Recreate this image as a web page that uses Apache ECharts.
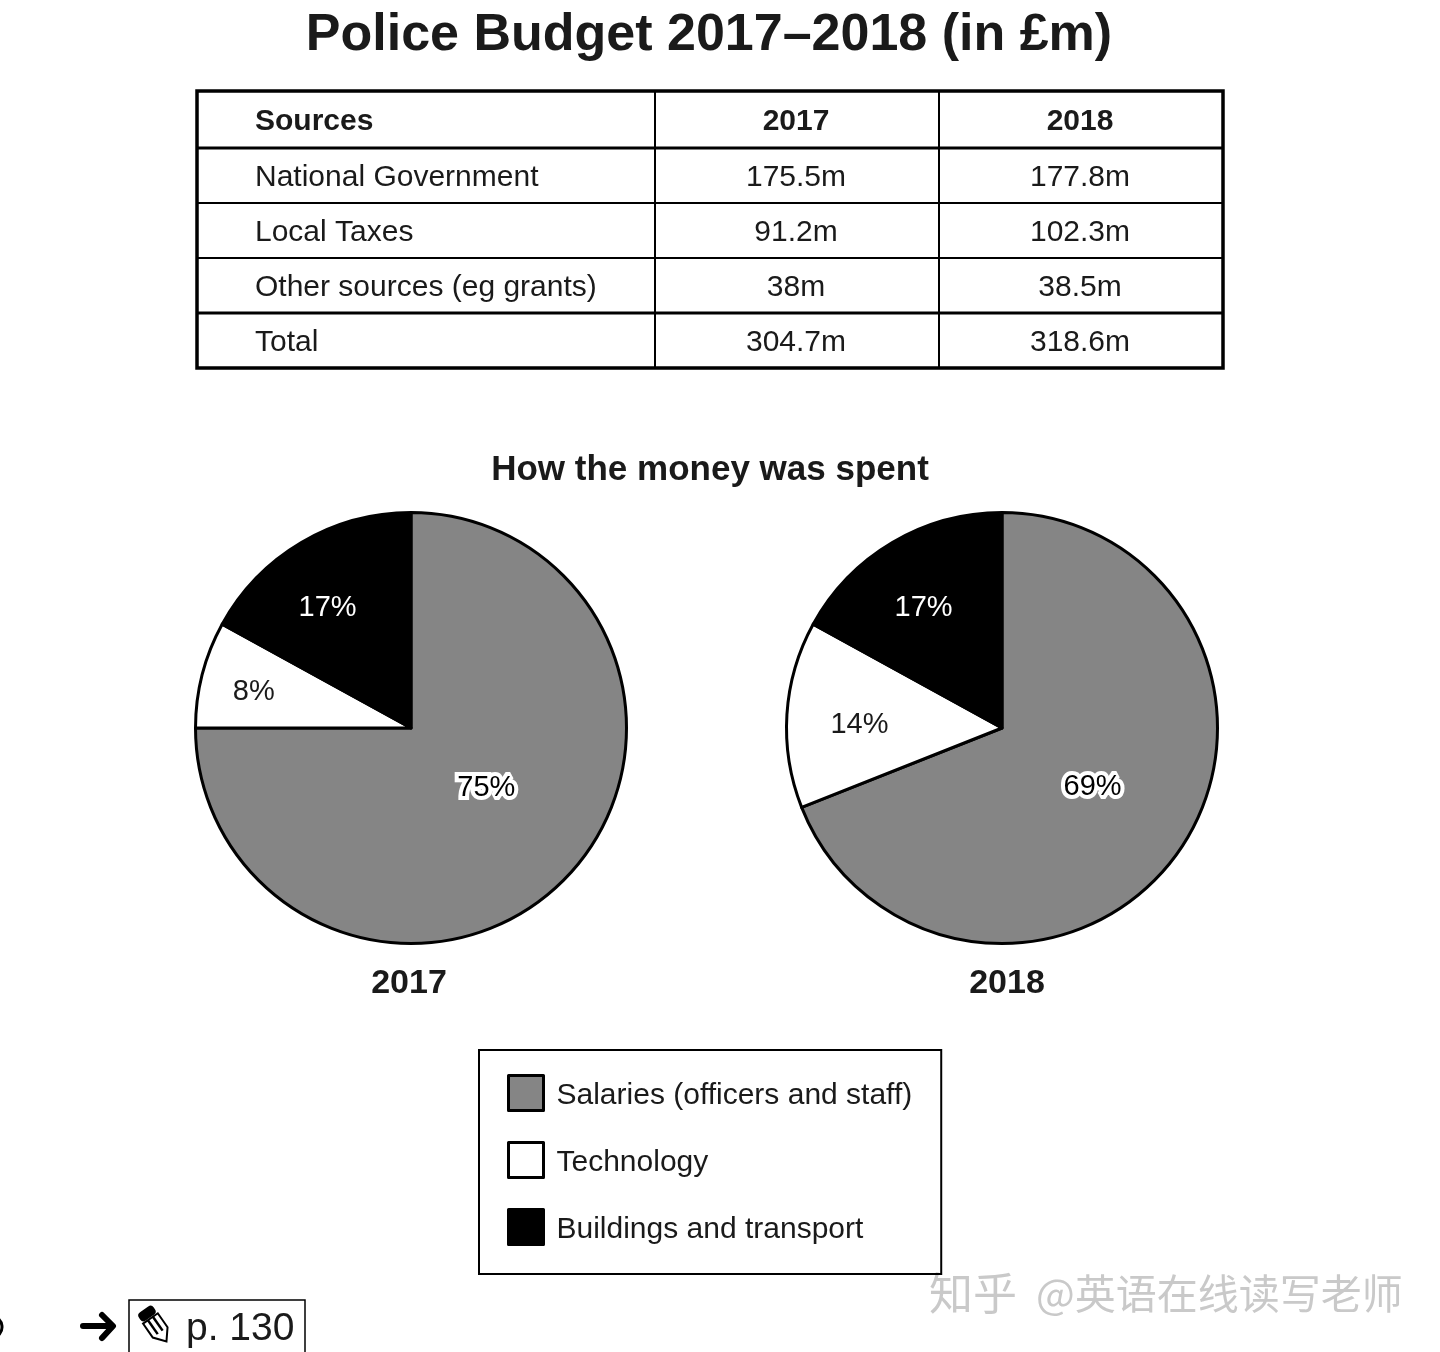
<!DOCTYPE html>
<html>
<head>
<meta charset="utf-8">
<title>Police Budget 2017-2018</title>
<style>
  html, body { margin: 0; padding: 0; background: #fff; }
  #chart { width: 1440px; height: 1352px; }
</style>
<script src="https://cdn.jsdelivr.net/npm/echarts@6/dist/echarts.min.js"></script>
</head>
<body>
<div id="chart"></div>
<script>
// table content
const tableHeader = ['Sources', '2017', '2018']
const sources = ['National Government', 'Local Taxes', 'Other sources (eg grants)', 'Total']
const budget2017 = ['175.5m', '91.2m', '38m', '304.7m']
const budget2018 = ['177.8m', '102.3m', '38.5m', '318.6m']

// pie content
const spendNames = ['Salaries (officers and staff)', 'Technology', 'Buildings and transport']
const share2017 = [75, 8, 17]
const share2018 = [69, 14, 17]
const spendColors = ['#858585', '#ffffff', '#000000']

// nudges from the default inside label spot
const labelOffsets2017 = [[-3, -18], [-50, -8], [-27, -25]]
const labelOffsets2018 = [[-1, -3], [-32, 4], [-22, -25]]

const FONT = '"Liberation Sans", Arial, sans-serif'
const INK = '#1a1a1a'

function pieData(values, offsets) {
  return spendNames.map((name, i) => {
    const onBlack = spendColors[i] === '#000000'
    const onGrey = spendColors[i] === '#858585'
    return {
      name,
      value: values[i],
      itemStyle: { color: spendColors[i] },
      label: {
        offset: offsets[i],
        color: onBlack ? '#ffffff' : onGrey ? '#000000' : INK,
        textBorderColor: onGrey ? '#ffffff' : 'transparent',
        textBorderWidth: onGrey ? 8 : 0
      }
    }
  })
}

function pieSeries(name, center, values, offsets) {
  return {
    name,
    type: 'pie',
    center,
    radius: [0, 215.5],
    startAngle: 90,
    clockwise: true,
    silent: true,
    label: {
      show: true,
      position: 'inside',
      formatter: '{c}%',
      fontFamily: FONT,
      fontSize: 29
    },
    labelLine: { show: false },
    itemStyle: { borderColor: '#000', borderWidth: 3 },
    data: pieData(values, offsets)
  }
}

function tableGraphics() {
  const left = 197
  const right = 1223
  const top = 91
  const bottom = 368
  const colLines = [655, 939]
  const rowLines = [[148, 3], [203, 2], [258, 2], [313, 3]]
  const rowCenters = [122, 178, 233, 288, 343]
  const colCenters = [796, 1080]
  const items = []

  const line = (x1, y1, x2, y2, width) => ({
    type: 'line',
    shape: { x1, y1, x2, y2 },
    style: { stroke: '#000', lineWidth: width }
  })
  const text = (str, x, y, align, bold) => ({
    type: 'text',
    style: {
      text: str,
      x,
      y,
      align,
      verticalAlign: 'middle',
      fill: INK,
      font: (bold ? 'bold ' : '') + '30px ' + FONT
    }
  })

  items.push({
    type: 'rect',
    shape: { x: left, y: top, width: right - left, height: bottom - top },
    style: { fill: '#fff', stroke: '#000', lineWidth: 3.5 }
  })
  rowLines.forEach(([y, w]) => items.push(line(left, y, right, y, w)))
  colLines.forEach(x => items.push(line(x, top, x, bottom, 2)))

  items.push(text(tableHeader[0], 255, rowCenters[0], 'left', true))
  items.push(text(tableHeader[1], colCenters[0], rowCenters[0], 'center', true))
  items.push(text(tableHeader[2], colCenters[1], rowCenters[0], 'center', true))
  sources.forEach((name, i) => {
    items.push(text(name, 255, rowCenters[i + 1], 'left', false))
    items.push(text(budget2017[i], colCenters[0], rowCenters[i + 1], 'center', false))
    items.push(text(budget2018[i], colCenters[1], rowCenters[i + 1], 'center', false))
  })
  return items
}

function footerGraphics() {
  return [
    // page reference box, runs off the bottom edge
    {
      type: 'rect',
      shape: { x: 129, y: 1300, width: 176, height: 70 },
      style: { fill: '#fff', stroke: '#000', lineWidth: 1.5 }
    },
    {
      type: 'text',
      style: { text: 'p. 130', x: 186, y: 1329, verticalAlign: 'middle', fill: INK, font: '39px ' + FONT }
    },
    // arrow
    {
      type: 'line',
      shape: { x1: 83, y1: 1326, x2: 111, y2: 1326 },
      style: { stroke: '#000', lineWidth: 6, lineCap: 'round' }
    },
    {
      type: 'polyline',
      shape: { points: [[102, 1315], [113, 1326], [102, 1338]] },
      style: { stroke: '#000', fill: 'none', lineWidth: 6, lineCap: 'round', lineJoin: 'round' }
    },
    // pencil
    {
      type: 'group',
      x: 155,
      y: 1325,
      rotation: Math.PI * 35 / 180,
      children: [
        { type: 'rect', shape: { x: -9, y: -19, width: 18, height: 10, r: 4 }, style: { fill: '#000' } },
        { type: 'polygon', shape: { points: [[-9, -8], [9, -8], [9, 9], [0, 20], [-9, 9]] }, style: { fill: '#fff', stroke: '#000', lineWidth: 2 } },
        { type: 'line', shape: { x1: -3, y1: -8, x2: -3, y2: 9 }, style: { stroke: '#000', lineWidth: 2.5 } },
        { type: 'line', shape: { x1: 3, y1: -8, x2: 3, y2: 9 }, style: { stroke: '#000', lineWidth: 2.5 } }
      ]
    },
    // cropped glyph at the left edge
    {
      type: 'arc',
      shape: { cx: -9, cy: 1327, r: 11, startAngle: -0.9, endAngle: 0.9 },
      style: { stroke: '#000', fill: 'none', lineWidth: 3 }
    },
    // watermark
    {
      type: 'text',
      style: {
        text: '知乎',
        x: 929,
        y: 1293,
        verticalAlign: 'middle',
        fill: '#c9c9c9',
        font: '44px "Noto Sans CJK SC", sans-serif'
      }
    },
    {
      type: 'text',
      style: {
        text: '@英语在线读写老师',
        x: 1036,
        y: 1293,
        verticalAlign: 'middle',
        fill: '#c9c9c9',
        font: '41px "Noto Sans CJK SC", sans-serif'
      }
    }
  ]
}

const chart = echarts.init(document.getElementById('chart'))

chart.setOption({
  animation: false,
  backgroundColor: '#ffffff',
  title: [
    { text: 'Police Budget 2017–2018 (in £m)', left: 704, top: 5, textAlign: 'center', textStyle: { fontFamily: FONT, fontSize: 52, fontWeight: 'bold', color: INK } },
    { text: 'How the money was spent', left: 705, top: 448, textAlign: 'center', textStyle: { fontFamily: FONT, fontSize: 35, fontWeight: 'bold', color: INK } },
    { text: '2017', left: 404, top: 962, textAlign: 'center', textStyle: { fontFamily: FONT, fontSize: 34, fontWeight: 'bold', color: INK } },
    { text: '2018', left: 1002, top: 962, textAlign: 'center', textStyle: { fontFamily: FONT, fontSize: 34, fontWeight: 'bold', color: INK } }
  ],
  legend: {
    orient: 'vertical',
    left: 479,
    top: 1050,
    padding: [24, 29, 28, 28],
    itemWidth: 35,
    itemHeight: 35,
    itemGap: 29,
    borderColor: '#000',
    borderWidth: 2,
    selectedMode: false,
    icon: 'rect',
    itemStyle: { borderColor: '#000', borderWidth: 3 },
    formatter: name => `{t|${name}}`,
    textStyle: {
      rich: {
        t: { fontFamily: FONT, fontSize: 30, color: INK, padding: [6, 0, 0, 8] }
      }
    },
    data: spendNames
  },
  series: [
    pieSeries('2017', [411, 728], share2017, labelOffsets2017),
    pieSeries('2018', [1002, 728], share2018, labelOffsets2018)
  ],
  graphic: { elements: [...tableGraphics(), ...footerGraphics()] }
})
</script>
</body>
</html>
